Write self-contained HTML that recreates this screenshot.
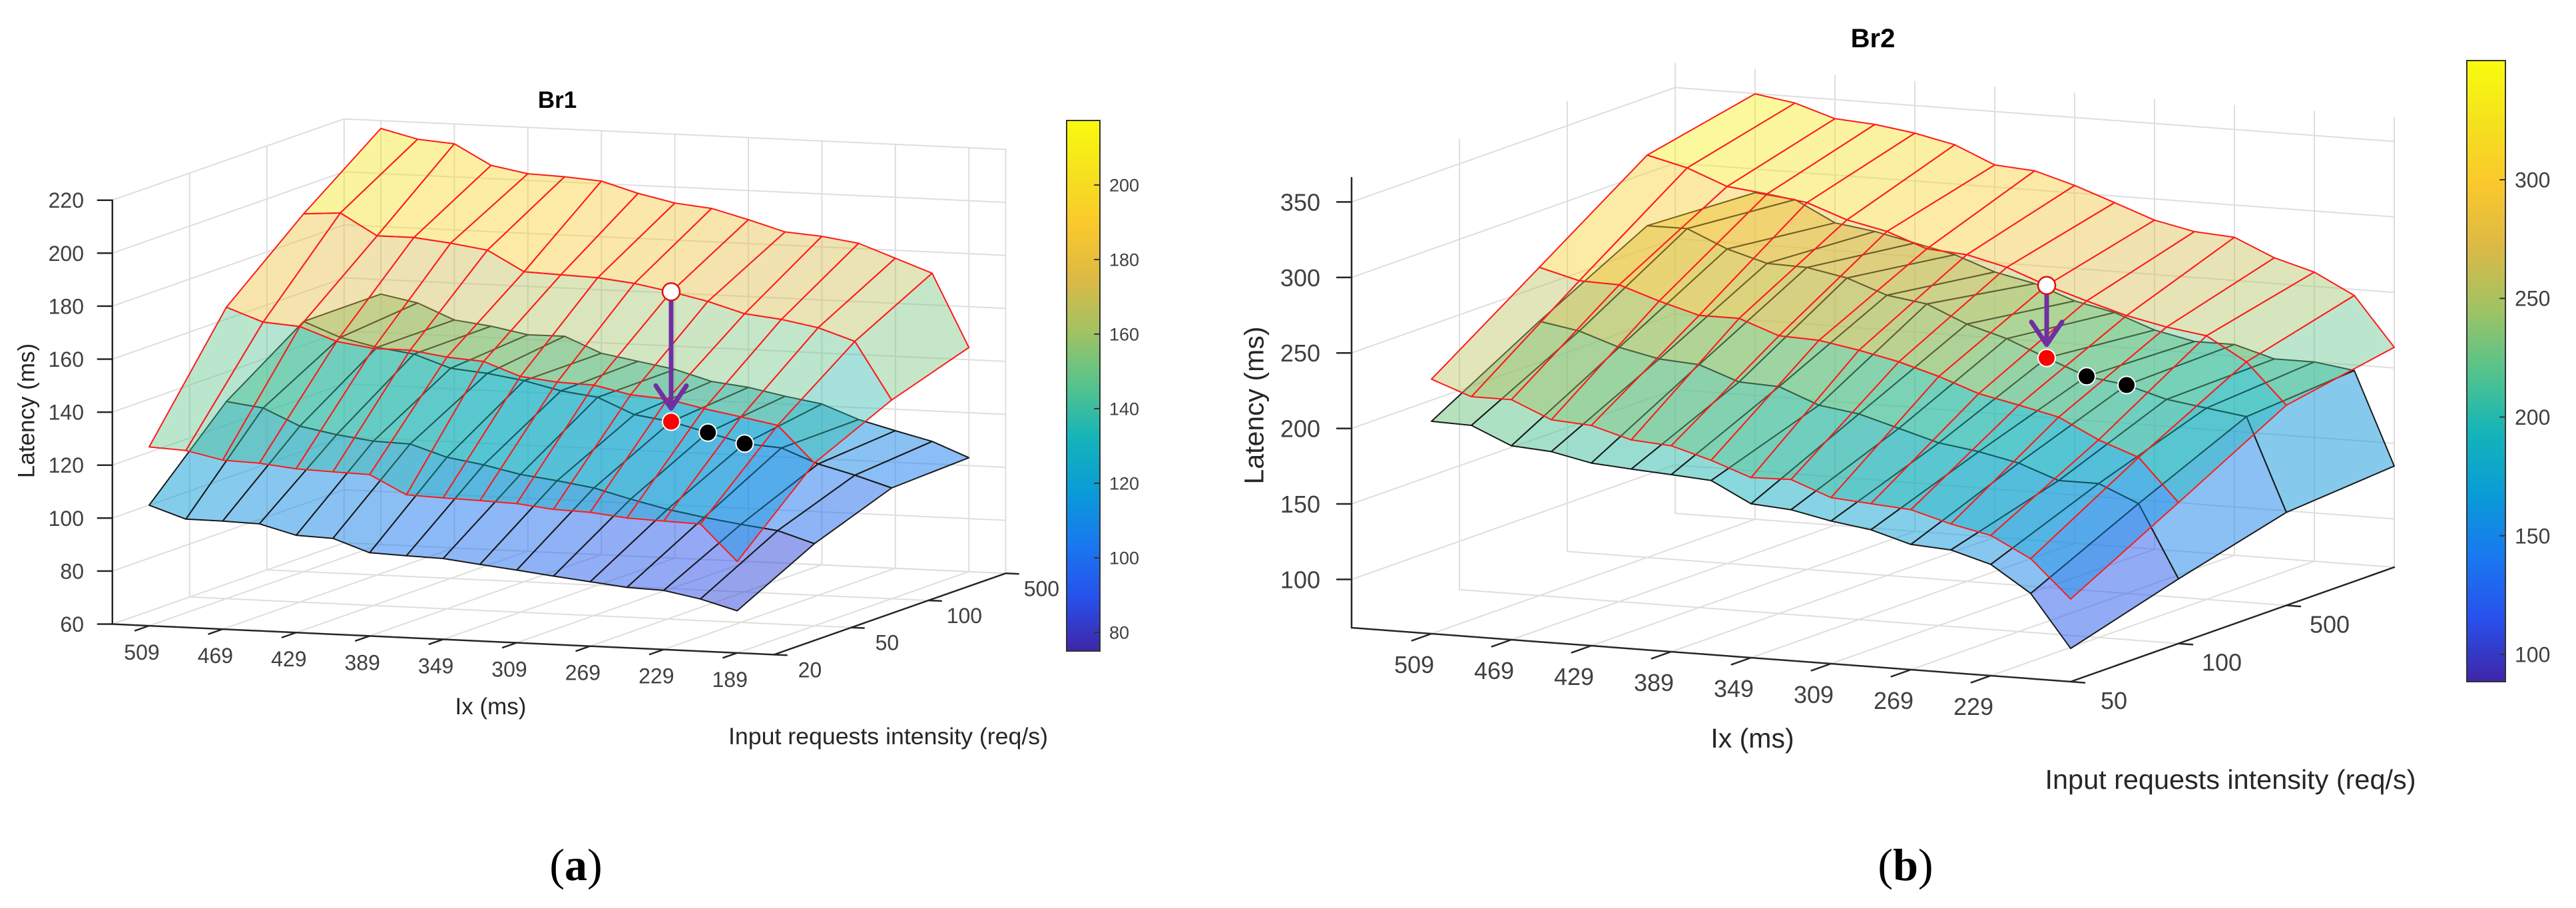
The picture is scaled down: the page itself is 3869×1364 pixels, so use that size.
<!DOCTYPE html>
<html><head><meta charset="utf-8"><title>Br1 / Br2 latency surfaces</title>
<style>
html,body{margin:0;padding:0;background:#fff;}
svg{display:block;}
text{font-family:"Liberation Sans",Arial,sans-serif;}
text.cap{font-family:"Liberation Serif","Times New Roman",serif;}
</style></head>
<body>
<svg id="fig" xmlns="http://www.w3.org/2000/svg" width="3869" height="1364" viewBox="0 0 3869 1364">
<rect x="0" y="0" width="3869" height="1364" fill="#fff"/>
<defs>
<linearGradient id="parulaGrad" x1="0" y1="1" x2="0" y2="0"></linearGradient>
</defs>
<g id="chartA"></g>
<g id="chartB"></g>
<text class="cap" x="865" y="1322" font-size="68" text-anchor="middle" fill="#000">(<tspan font-weight="bold">a</tspan>)</text>
<text class="cap" x="2862" y="1322" font-size="68" text-anchor="middle" fill="#000">(<tspan font-weight="bold">b</tspan>)</text>
</svg>
<script>
// ---------- data ----------
const ixLabels = [509, 469, 429, 389, 349, 309, 269, 229, 189];
const ixLabelsB = [509, 469, 429, 389, 349, 309, 269, 229];
const intensityLabelsA = ['20', '50', '100', '500'];
const intensityLabelsB = ['50', '100', '500'];
const zTicksA = [60, 80, 100, 120, 140, 160, 180, 200, 220];
const zTicksB = [100, 150, 200, 250, 300, 350];
const cbTicksA = [80, 100, 120, 140, 160, 180, 200];
const cbTicksB = [100, 150, 200, 250, 300];

const br1UpperJ0 = [127.5,126.8,123.8,123.3,121.8,121.3,120.9,113.9,113.4,113,112.5,111,110.5,109,108.5,108,94.5];
const br1UpperJ1 = [170,165,164,159,157,157,155,154,149,147.5,147,144,143,140,137.6,135,121.4];
const br1UpperJ2 = [195,196,188,188,186.5,184.5,177,176.5,176,174.5,172,169,165,163.5,161,156.5,135];
const br1UpperJ3 = [217,213.6,212.5,205,202.5,202,201,197,194,192.6,189,185,184,182,177,172,144.6];
const br1LowerJ0 = [105.5,100.9,100.8,100.4,96.7,96.2,91.4,90.9,90.5,88.9,87.4,85.8,84.3,82.8,82.3,79.7,75.9];
const br1LowerJ1 = [134.4,132.6,126.4,123.8,122,121.6,117.2,115,112,110.3,108.2,104.6,101.4,99,97,95.3,91];
const br1LowerJ2 = [154.4,149,145.9,144,139.3,138,135.9,132.7,130.9,125,123,119.5,116,115,109.6,106,101.8];
const br1LowerJ3 = [154.5,151.8,146,144.3,141.7,141.8,136,133.6,131.2,127.3,125.7,123,120.7,115.5,111.9,108.5,103];

const br2UpperJ0 = [236.6,227,227,215.7,213.9,206.3,204.4,196.8,187.3,188,178,176,174,166.5,160.9,147.5,122.7];
const br2UpperJ1 = [285.4,278.5,277.8,269,261.5,261.5,252,251,246.4,240.7,233,223.6,218,212,198.9,189.3,161.4];
const br2UpperJ2 = [334.5,328,317.7,314.7,311,301.5,295.8,286.3,284.4,278,268,259.7,252,246.4,242.6,227.3,200.6];
const br2UpperJ3 = [349.8,345.7,337.3,335.5,331.7,326,314.6,312.7,305,295.6,286,280.4,278.6,267,259.5,246,213.7];
const br2LowerJ0 = [208.7,208,196.5,194.6,189,187,185.3,183.4,170,168,162.5,158.7,151,149.3,141.7,124.5,90];
const br2LowerJ1 = [249.7,245.2,236.4,230.7,228.9,219.4,218.3,208,204.2,196.6,189,185.2,179.6,170,170,158.7,110.8];
const br2LowerJ2 = [287.7,287.8,276.3,268.7,268,263,253.6,249.8,238.4,230.8,220,209.8,206,198.5,194.7,191,129.6];
const br2LowerJ3 = [284.3,281.7,268.3,264.6,258.9,253.2,243.7,238,228.5,222.8,213.2,207.6,207.6,200,200,196.3,135];

// marker indices along the Ix grid (on row j=2): start point, then next two
const markerCols = [10, 11, 12];
const markerRow = 2;

// ---------- helpers ----------
const NS = 'http://www.w3.org/2000/svg';
const parulaStops = [[62,38,168],[40,80,235],[25,120,240],[10,155,215],[20,180,185],[85,195,140],[160,195,100],[220,185,70],[250,200,45],[245,225,30],[249,251,14]];
function parula(t){
  t = Math.max(0, Math.min(1, t));
  const p = t * 10, k = Math.min(9, Math.floor(p)), f = p - k;
  const a = parulaStops[k], b = parulaStops[k + 1];
  return 'rgb(' + [0,1,2].map(c => Math.round(a[c] + (b[c] - a[c]) * f)).join(',') + ')';
}
function mk(parent, tag, attrs){
  const el = document.createElementNS(NS, tag);
  for (const k in attrs) el.setAttribute(k, attrs[k]);
  parent.appendChild(el);
  return el;
}
(function(){
  const g = document.getElementById('parulaGrad');
  for (let s = 0; s <= 10; s++) {
    const st = mk(g, 'stop', {offset: (s * 10) + '%', 'stop-color': parula(s / 10)});
    
    
  }
})();

const cfgA = {root:'chartA', x0:224, sx:55.2, sy:2.55, dx:116, dy:-40.7, y0:940, zmin:60, zmax:220, zs:3.98, imin:-1, imax:17, jmax:3,
  cmin:75, cmax:217.3, cbx:1602, cby:181, cbw:50, cbh:797, tickFs:32, axisFs:35, cbFs:27, titleFs:35,
  title:'Br1', titleX:837, titleY:162, zLabelRight:126, latX:39, latY:617, ixX:737, ixY:1073, inX:1334, inY:1118, inW:480,
  xLabOff:[-11,51], dLabOff:[54,34], xTickEvery:2,
  surfaces:{upper:[br1UpperJ0,br1UpperJ1,br1UpperJ2,br1UpperJ3], lower:[br1LowerJ0,br1LowerJ1,br1LowerJ2,br1LowerJ3]},
  xl: ixLabels, dl: intensityLabelsA, zt: zTicksA, cbt: cbTicksA};
const cfgB = {root:'chartB', x0:2150, sx:60, sy:4.5, dx:162, dy:-57.3, y0:952, zmin:68, zmax:366, zs:2.268, imin:-2, imax:16, jmax:3,
  cmin:88.5, cmax:350.2, cbx:3705, cby:91, cbw:58, cbh:933, tickFs:36, axisFs:41, cbFs:32, titleFs:40,
  title:'Br2', titleX:2813, titleY:71, zLabelRight:1983, latX:1883, latY:609, ixX:2632, ixY:1123, inX:3350, inY:1185, inW:557,
  xLabOff:[-26,59], dLabOff:[65,41], xTickEvery:2,
  surfaces:{upper:[br2UpperJ0,br2UpperJ1,br2UpperJ2,br2UpperJ3], lower:[br2LowerJ0,br2LowerJ1,br2LowerJ2,br2LowerJ3]},
  xl: ixLabelsB, dl: intensityLabelsB, zt: zTicksB, cbt: cbTicksB};

function drawChart(C){
  const root = document.getElementById(C.root);
  const P = (i, j, z) => [C.x0 + i * C.sx + j * C.dx, C.y0 + i * C.sy + j * C.dy - (z - C.zmin) * C.zs];
  const line = (a, b, stroke, w, name) => {
    const l = mk(root, 'line', {x1:a[0].toFixed(1), y1:a[1].toFixed(1), x2:b[0].toFixed(1), y2:b[1].toFixed(1), stroke:stroke, 'stroke-width':w, 'stroke-linecap':'round'});
    
    
    return l;
  };
  const grid = '#dedede';
  C.zt.forEach(z => {
    line(P(C.imin,0,z), P(C.imin,C.jmax,z), grid, 2, 'left-wall-gridline');
    line(P(C.imin,C.jmax,z), P(C.imax,C.jmax,z), grid, 2, 'back-wall-gridline');
  });
  for (let j = 1; j <= C.jmax; j++) {
    line(P(C.imin,j,C.zmin), P(C.imin,j,C.zmax), grid, 2, 'left-wall-vertical-gridline');
    line(P(C.imin,j,C.zmin), P(C.imax,j,C.zmin), grid, 2, 'floor-gridline');
  }
  C.xl.forEach((v, k) => {
    const i = k * C.xTickEvery;
    line(P(i,0,C.zmin), P(i,C.jmax,C.zmin), grid, 2, 'floor-gridline');
    line(P(i,C.jmax,C.zmin), P(i,C.jmax,C.zmax), grid, 2, 'back-wall-vertical-gridline');
  });
  line(P(C.imax,C.jmax,C.zmin), P(C.imax,C.jmax,C.zmax), grid, 2, 'back-wall-edge');

  // surfaces
  ['lower','upper'].forEach(name => {
    const rows = C.surfaces[name];
    const edge = name === 'upper' ? '#ff1a1a' : '#1a1a1a';
    const op = name === 'upper' ? 0.42 : 0.5;
    for (let j = rows.length - 2; j >= 0; j--) {
      for (let i = 0; i < rows[j].length - 1; i++) {
        const pts = [P(i,j,rows[j][i]), P(i+1,j,rows[j][i+1]), P(i+1,j+1,rows[j+1][i+1]), P(i,j+1,rows[j+1][i])];
        const zAvg = (rows[j][i] + rows[j][i+1] + rows[j+1][i+1] + rows[j+1][i]) / 4;
        const poly = mk(root, 'polygon', {points: pts.map(p => p[0].toFixed(1) + ',' + p[1].toFixed(1)).join(' '),
          fill: parula((zAvg - C.cmin) / (C.cmax - C.cmin)), 'fill-opacity': op, stroke: edge, 'stroke-width': 2, 'stroke-linejoin':'round'});
        
        
      }
    }
  });

  // axes
  const ax = '#262626';
  line(P(C.imin,0,C.zmin), P(C.imin,0,C.zmax), ax, 2.5, 'z-axis');
  line(P(C.imin,0,C.zmin), P(C.imax,0,C.zmin), ax, 2.5, 'x-axis');
  line(P(C.imax,0,C.zmin), P(C.imax,C.jmax,C.zmin), ax, 2.5, 'depth-axis');
  C.zt.forEach(z => {
    const a = P(C.imin,0,z);
    line(a, [a[0] - 22, a[1]], ax, 2.5, 'z-tick');
    const t = mk(root, 'text', {x:C.zLabelRight, y:(a[1] + C.tickFs * 0.36).toFixed(1), 'font-size':C.tickFs, fill:'#404040', 'text-anchor':'end'});
    t.textContent = z;
    
    
  });
  C.xl.forEach((v, k) => {
    const i = k * C.xTickEvery;
    const a = P(i,0,C.zmin);
    line(a, P(i,-0.18,C.zmin), ax, 2.5, 'x-tick');
    const t = mk(root, 'text', {x:(a[0] + C.xLabOff[0]).toFixed(1), y:(a[1] + C.xLabOff[1]).toFixed(1), 'font-size':C.tickFs, fill:'#404040', 'text-anchor':'middle'});
    t.textContent = v;
    
    
  });
  C.dl.forEach((v, j) => {
    const a = P(C.imax,j,C.zmin);
    line(a, P(C.imax + 0.35,j,C.zmin), ax, 2.5, 'depth-tick');
    const t = mk(root, 'text', {x:(a[0] + C.dLabOff[0]).toFixed(1), y:(a[1] + C.dLabOff[1]).toFixed(1), 'font-size':C.tickFs, fill:'#404040', 'text-anchor':'middle'});
    t.textContent = v;
    
    
  });

  // titles
  let t = mk(root, 'text', {x:C.titleX, y:C.titleY, 'font-size':C.titleFs, 'font-weight':'bold', fill:'#000', 'text-anchor':'middle'});
  t.textContent = C.title;
  
  
  t = mk(root, 'text', {x:C.latX, y:C.latY, 'font-size':C.axisFs, fill:'#262626', 'text-anchor':'middle', transform:'rotate(-90 ' + C.latX + ' ' + C.latY + ')', dy:'0.35em'});
  t.textContent = 'Latency (ms)';
  
  
  t = mk(root, 'text', {x:C.ixX, y:C.ixY, 'font-size':C.axisFs, fill:'#262626', 'text-anchor':'middle'});
  t.textContent = 'Ix (ms)';
  
  
  t = mk(root, 'text', {x:C.inX, y:C.inY, 'font-size':C.axisFs, fill:'#262626', 'text-anchor':'middle', textLength:C.inW, lengthAdjust:'spacingAndGlyphs'});
  t.textContent = 'Input requests intensity (req/s)';
  
  

  // colorbar
  const cb = mk(root, 'rect', {x:C.cbx, y:C.cby, width:C.cbw, height:C.cbh, fill:'url(#parulaGrad)', stroke:'#333', 'stroke-width':2});
  
  
  C.cbt.forEach(v => {
    const y = C.cby + (C.cmax - v) / (C.cmax - C.cmin) * C.cbh;
    line([C.cbx + C.cbw - 8, y], [C.cbx + C.cbw, y], '#333', 2, 'colorbar-tick');
    const tl = mk(root, 'text', {x:C.cbx + C.cbw + 14, y:(y + C.cbFs * 0.36).toFixed(1), 'font-size':C.cbFs, fill:'#404040'});
    tl.textContent = v;
    
    
  });

  // markers and arrow
  const up = C.surfaces.upper[markerRow], lo = C.surfaces.lower[markerRow];
  const m0 = markerCols[0];
  const pw = P(m0, markerRow, up[m0]);
  const pr = P(m0, markerRow, lo[m0]);
  const arrowColor = '#7030a0';
  const tip = [pr[0], pr[1] - 20];
  line([pw[0], pw[1] + 12], tip, arrowColor, 7, 'arrow-shaft');
  const head = mk(root, 'polyline', {points:(tip[0]-23)+','+(tip[1]-34)+' '+tip[0]+','+tip[1]+' '+(tip[0]+23)+','+(tip[1]-34), fill:'none', stroke:arrowColor, 'stroke-width':7, 'stroke-linecap':'round', 'stroke-linejoin':'round'});
  
  
  let c = mk(root, 'circle', {cx:pw[0].toFixed(1), cy:pw[1].toFixed(1), r:13, fill:'#fff', stroke:'#e01010', 'stroke-width':2.5});
  
  
  c = mk(root, 'circle', {cx:pr[0].toFixed(1), cy:pr[1].toFixed(1), r:13, fill:'#ff0000', stroke:'#fff', 'stroke-width':2});
  
  
  markerCols.slice(1).forEach(i => {
    const pb = P(i, markerRow, lo[i]);
    const b = mk(root, 'circle', {cx:pb[0].toFixed(1), cy:pb[1].toFixed(1), r:13, fill:'#000', stroke:'#fff', 'stroke-width':2});
    
    
  });
}
drawChart(cfgA);
drawChart(cfgB);
</script>
</body></html>
